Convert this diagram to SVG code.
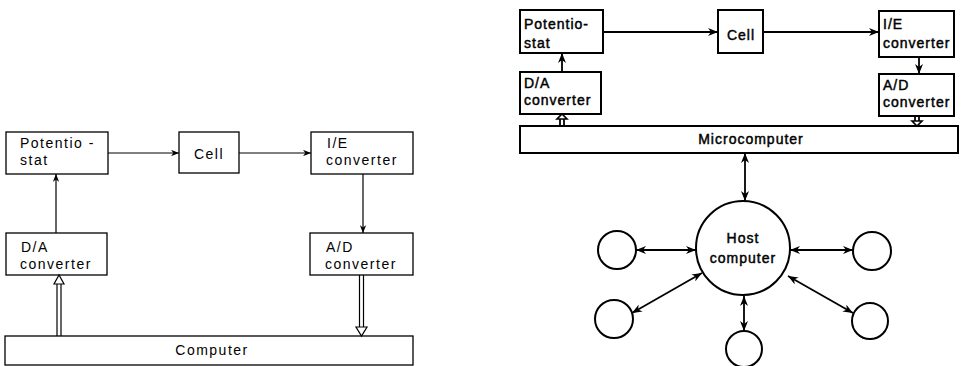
<svg xmlns="http://www.w3.org/2000/svg" width="963" height="366" viewBox="0 0 963 366">
<style>
.bl{fill:#fff;stroke:#000;stroke-width:1.3}
.br{fill:#fff;stroke:#000;stroke-width:2}
.tl{font-family:"Liberation Sans",Arial,sans-serif;font-size:14px;letter-spacing:1.5px;fill:#000}
.tr{font-family:"Liberation Sans",Arial,sans-serif;font-size:14px;letter-spacing:1px;fill:#000;stroke:#000;stroke-width:0.45}
.cl{fill:none;stroke:#000;stroke-width:1.2}
.cr{fill:none;stroke:#000;stroke-width:1.8}
.hl{fill:#fff;stroke:#000;stroke-width:1.2}
.hr{fill:#fff;stroke:#000;stroke-width:1.6}
</style>
<defs>
<marker id="al" viewBox="0 0 10 8" refX="10" refY="4" markerWidth="8" markerHeight="6.4" markerUnits="userSpaceOnUse" orient="auto-start-reverse">
<path d="M0,0 L10,4 L0,8 L3,4 z" fill="#000"/>
</marker>
<marker id="ar" viewBox="0 0 10 8" refX="10" refY="4" markerWidth="11" markerHeight="8" markerUnits="userSpaceOnUse" orient="auto-start-reverse">
<path d="M0,0 L10,4 L0,8 L3,4 z" fill="#000"/>
</marker>
</defs>

<!-- Left diagram -->
<g id="l-potentiostat"><rect class="bl" x="6" y="132" width="102" height="42"/><text class="tl" x="20" y="148">Potentio -</text><text class="tl" x="20" y="165">stat</text></g>
<g id="l-cell"><rect class="bl" x="179" y="132" width="60" height="41"/><text class="tl" x="209" y="159" text-anchor="middle">Cell</text></g>
<g id="l-ie"><rect class="bl" x="311" y="132" width="102" height="42"/><text class="tl" x="327" y="148">I/E</text><text class="tl" x="326" y="165">converter</text></g>
<g id="l-da"><rect class="bl" x="6" y="233" width="101" height="42"/><text class="tl" x="21" y="252">D/A</text><text class="tl" x="20" y="269">converter</text></g>
<g id="l-ad"><rect class="bl" x="310" y="233" width="103" height="42"/><text class="tl" x="326" y="252">A/D</text><text class="tl" x="325" y="269">converter</text></g>
<g id="l-computer"><rect class="bl" x="5" y="336" width="408" height="29"/><text class="tl" x="212" y="355" text-anchor="middle">Computer</text></g>

<g id="l-connectors">
<line class="cl" x1="108" y1="153" x2="179" y2="153" marker-end="url(#al)"/>
<line class="cl" x1="239" y1="153" x2="311" y2="153" marker-end="url(#al)"/>
<line class="cl" x1="56" y1="233" x2="56" y2="174" marker-end="url(#al)"/>
<line class="cl" x1="363" y1="174" x2="363" y2="233" marker-end="url(#al)"/>
<line class="cl" x1="57" y1="336" x2="57" y2="284"/>
<line class="cl" x1="61" y1="336" x2="61" y2="284"/>
<polygon class="hl" points="54,284 64,284 59,275"/>
<line class="cl" x1="359.5" y1="275" x2="359.5" y2="327"/>
<line class="cl" x1="363.5" y1="275" x2="363.5" y2="327"/>
<polygon class="hl" points="356,327 367,327 361.5,336"/>
</g>

<!-- Right diagram -->
<g id="r-potentiostat"><rect class="br" x="520" y="10" width="83" height="43"/><text class="tr" x="524" y="29">Potentio-</text><text class="tr" x="524" y="48">stat</text></g>
<g id="r-cell"><rect class="br" x="718" y="10" width="45" height="43"/><text class="tr" x="741" y="40" text-anchor="middle">Cell</text></g>
<g id="r-ie"><rect class="br" x="879" y="11" width="75" height="46"/><text class="tr" x="883" y="29">I/E</text><text class="tr" x="883" y="48">converter</text></g>
<g id="r-da"><rect class="br" x="520" y="72" width="81" height="42"/><text class="tr" x="524" y="88">D/A</text><text class="tr" x="524" y="105">converter</text></g>
<g id="r-ad"><rect class="br" x="879" y="74" width="75" height="42"/><text class="tr" x="883" y="90">A/D</text><text class="tr" x="883" y="107">converter</text></g>
<g id="r-microcomputer"><rect class="br" x="520" y="126" width="438" height="27"/><text class="tr" x="751" y="144" text-anchor="middle">Microcomputer</text></g>
<g id="r-host"><circle class="br" cx="743" cy="248" r="47"/><text class="tr" x="743" y="243" text-anchor="middle">Host</text><text class="tr" x="743" y="263" text-anchor="middle">computer</text></g>
<g id="r-c1"><circle class="br" cx="617" cy="250" r="19"/></g>
<g id="r-c2"><circle class="br" cx="872" cy="251" r="19"/></g>
<g id="r-c3"><circle class="br" cx="614" cy="319" r="19"/></g>
<g id="r-c4"><circle class="br" cx="744" cy="349" r="18"/></g>
<g id="r-c5"><circle class="br" cx="870" cy="321" r="18"/></g>

<g id="r-connectors">
<line class="cr" x1="603" y1="32" x2="718" y2="32" marker-end="url(#ar)"/>
<line class="cr" x1="763" y1="32" x2="879" y2="32" marker-end="url(#ar)"/>
<line class="cr" x1="562" y1="72" x2="562" y2="53" marker-end="url(#ar)"/>
<line class="cr" x1="919" y1="57" x2="919" y2="74" marker-end="url(#ar)"/>
<line class="cr" x1="560" y1="126" x2="560" y2="119"/>
<line class="cr" x1="564" y1="126" x2="564" y2="119"/>
<polygon class="hr" points="557,119 567,119 562,114"/>
<line class="cr" x1="915" y1="116" x2="915" y2="121"/>
<line class="cr" x1="919" y1="116" x2="919" y2="121"/>
<polygon class="hr" points="912,121 922,121 917,126"/>
<line class="cr" x1="745" y1="153" x2="745" y2="201" marker-start="url(#ar)" marker-end="url(#ar)"/>
<line class="cr" x1="636" y1="250" x2="696" y2="250" marker-start="url(#ar)" marker-end="url(#ar)"/>
<line class="cr" x1="790" y1="250" x2="853" y2="250" marker-start="url(#ar)" marker-end="url(#ar)"/>
<line class="cr" x1="632" y1="313" x2="702" y2="273" marker-start="url(#ar)" marker-end="url(#ar)"/>
<line class="cr" x1="788" y1="276" x2="853" y2="313" marker-start="url(#ar)" marker-end="url(#ar)"/>
<line class="cr" x1="744" y1="296" x2="744" y2="331" marker-start="url(#ar)" marker-end="url(#ar)"/>
</g>
</svg>
